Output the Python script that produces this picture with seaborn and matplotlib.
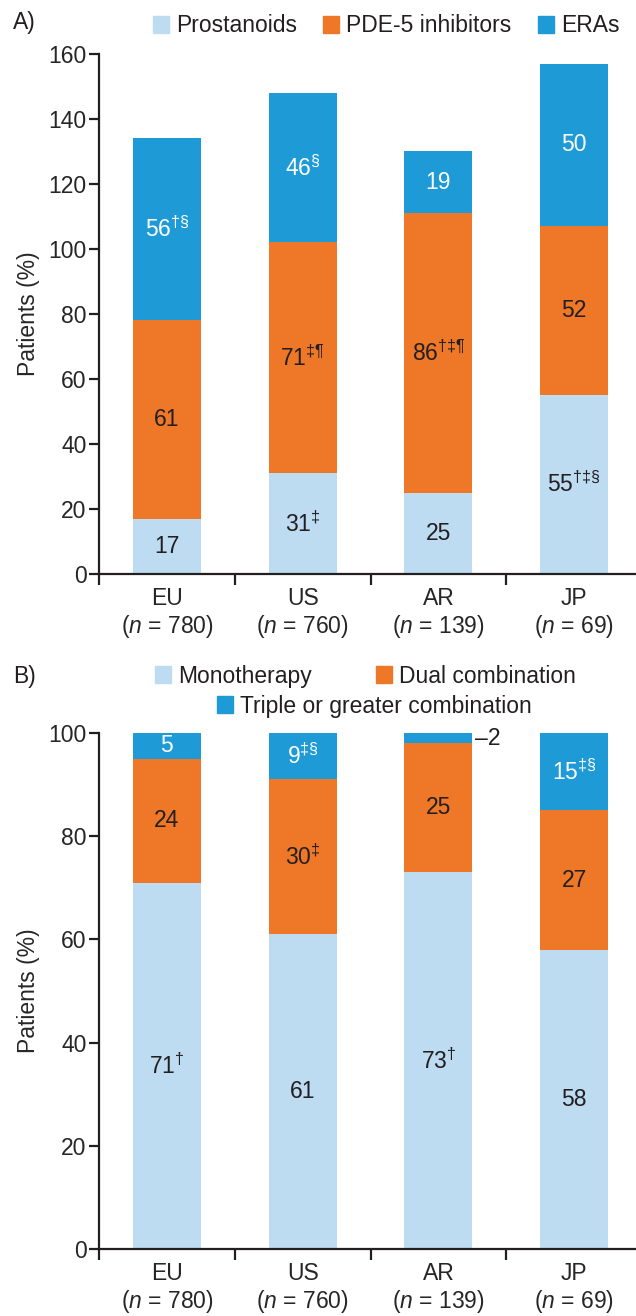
import numpy as np
import pandas as pd
import seaborn as sns
import matplotlib.pyplot as plt

# --- data ---
REGIONS = ["EU", "US", "AR", "JP"]
N_PATIENTS = [780, 760, 139, 69]

# Panel A: drug class use (%)
PROSTANOIDS = [17, 31, 25, 55]
PDE5 = [61, 71, 86, 52]
ERAS = [56, 46, 19, 50]
PROST_LBL = ["17", "31$^{‡}$", "25", "55$^{†‡§}$"]
PDE5_LBL = ["61", "71$^{‡¶}$", "86$^{†‡¶}$", "52"]
ERAS_LBL = ["56$^{†§}$", "46$^{§}$", "19", "50"]

# Panel B: therapy type (%)
MONO = [71, 61, 73, 58]
DUAL = [24, 30, 25, 27]
TRIPLE = [5, 9, 2, 15]
MONO_LBL = ["71$^{†}$", "61", "73$^{†}$", "58"]
DUAL_LBL = ["24", "30$^{‡}$", "25", "27"]
TRIPLE_LBL = ["5", "9$^{‡§}$", None, "15$^{‡§}$"]

LIGHT = "#BDDBF1"
ORANGE = "#EE7827"
BLUE = "#1E9AD6"
INK = "#231F20"
FS = 16.5

sns.set_theme(style="white")
plt.rcParams["font.family"] = ["Liberation Sans", "DejaVu Sans"]
plt.rcParams["mathtext.fontset"] = "custom"
plt.rcParams["mathtext.rm"] = "Liberation Sans"
plt.rcParams["mathtext.it"] = "Liberation Sans:italic"
plt.rcParams["mathtext.bf"] = "Liberation Sans:bold"
plt.rcParams["text.color"] = INK


def stacked(ax, layers, labels, colors, txtcolors):
    df = pd.DataFrame({"region": REGIONS})
    cum = np.cumsum(np.array(layers), axis=0)
    # draw tallest cumulative first, then overlay the lower ones
    for i in reversed(range(len(layers))):
        df["v"] = cum[i]
        sns.barplot(data=df, x="region", y="v", color=colors[i], width=0.5,
                    saturation=1, linewidth=0, ax=ax)
    for i in range(len(layers)):
        base = cum[i] - np.array(layers[i])
        for j in range(len(REGIONS)):
            if labels[i][j] is None:
                continue
            ax.text(j, base[j] + layers[i][j] / 2, labels[i][j], ha="center",
                    va="center", fontsize=FS, color=txtcolors[i])


def style_axis(ax, ymax, step):
    ax.set_xlim(-0.5, 3.5)
    ax.set_ylim(0, ymax)
    ax.set_yticks(np.arange(0, ymax + 1, step))
    ax.set_xticks([-0.5, 0.5, 1.5, 2.5, 3.5])
    ax.set_xticklabels([])
    ax.set_xticks(range(len(REGIONS)), minor=True)
    ax.set_xticklabels([f"{r}\n($n$ = {n})" for r, n in zip(REGIONS, N_PATIENTS)],
                       minor=True, fontsize=FS, linespacing=1.15)
    ax.tick_params(axis="x", which="major", length=8, width=1.6, direction="out",
                   bottom=True, color=INK)
    ax.tick_params(axis="x", which="minor", length=0, pad=9, bottom=True)
    ax.tick_params(axis="y", length=7, width=1.6, direction="out", left=True,
                   labelsize=FS, pad=2, color=INK)
    ax.set_xlabel("")
    ax.set_ylabel("Patients (%)", fontsize=FS, labelpad=6)
    for s in ["top", "right"]:
        ax.spines[s].set_visible(False)
    for s in ["left", "bottom"]:
        ax.spines[s].set_linewidth(1.6)
        ax.spines[s].set_color(INK)


fig = plt.figure(figsize=(6.36, 13.16), dpi=100)
axA = fig.add_axes([0.1557, 0.5638, 0.8538, 0.3952])
axB = fig.add_axes([0.1557, 0.0509, 0.8538, 0.3921])

stacked(axA, [PROSTANOIDS, PDE5, ERAS], [PROST_LBL, PDE5_LBL, ERAS_LBL],
        [LIGHT, ORANGE, BLUE], [INK, INK, "white"])
style_axis(axA, 160, 20)

stacked(axB, [MONO, DUAL, TRIPLE], [MONO_LBL, DUAL_LBL, TRIPLE_LBL],
        [LIGHT, ORANGE, BLUE], [INK, INK, "white"])
style_axis(axB, 100, 20)
# small AR triple-combination value sits outside the bar
axB.text(2.27, MONO[2] + DUAL[2] + TRIPLE[2] / 2, "–2", ha="left", va="center",
         fontsize=FS, color=INK)

# legends
hA = [plt.Rectangle((0, 0), 1, 1, color=c) for c in [LIGHT, ORANGE, BLUE]]
kw = dict(frameon=False, fontsize=FS, handlelength=0.7, handleheight=0.7,
          handletextpad=0.3, borderaxespad=0, loc="center")
fig.legend(hA, ["Prostanoids", "PDE-5 inhibitors", "ERAs"], ncol=3,
           bbox_to_anchor=(0.607, 1 - 26 / 1316), columnspacing=1.15, **kw)
fig.legend(hA[:2], ["Monotherapy", "Dual combination"], ncol=2,
           bbox_to_anchor=(0.575, 1 - 676 / 1316), columnspacing=2.8, **kw)
fig.legend(hA[2:], ["Triple or greater combination"],
           bbox_to_anchor=(0.588, 1 - 706 / 1316), **kw)

fig.text(0.02, 1 - 23 / 1316, "A)", fontsize=FS, va="center", ha="left")
fig.text(0.02, 1 - 676 / 1316, "B)", fontsize=FS, va="center", ha="left")

fig.savefig("out.png", dpi=100)
